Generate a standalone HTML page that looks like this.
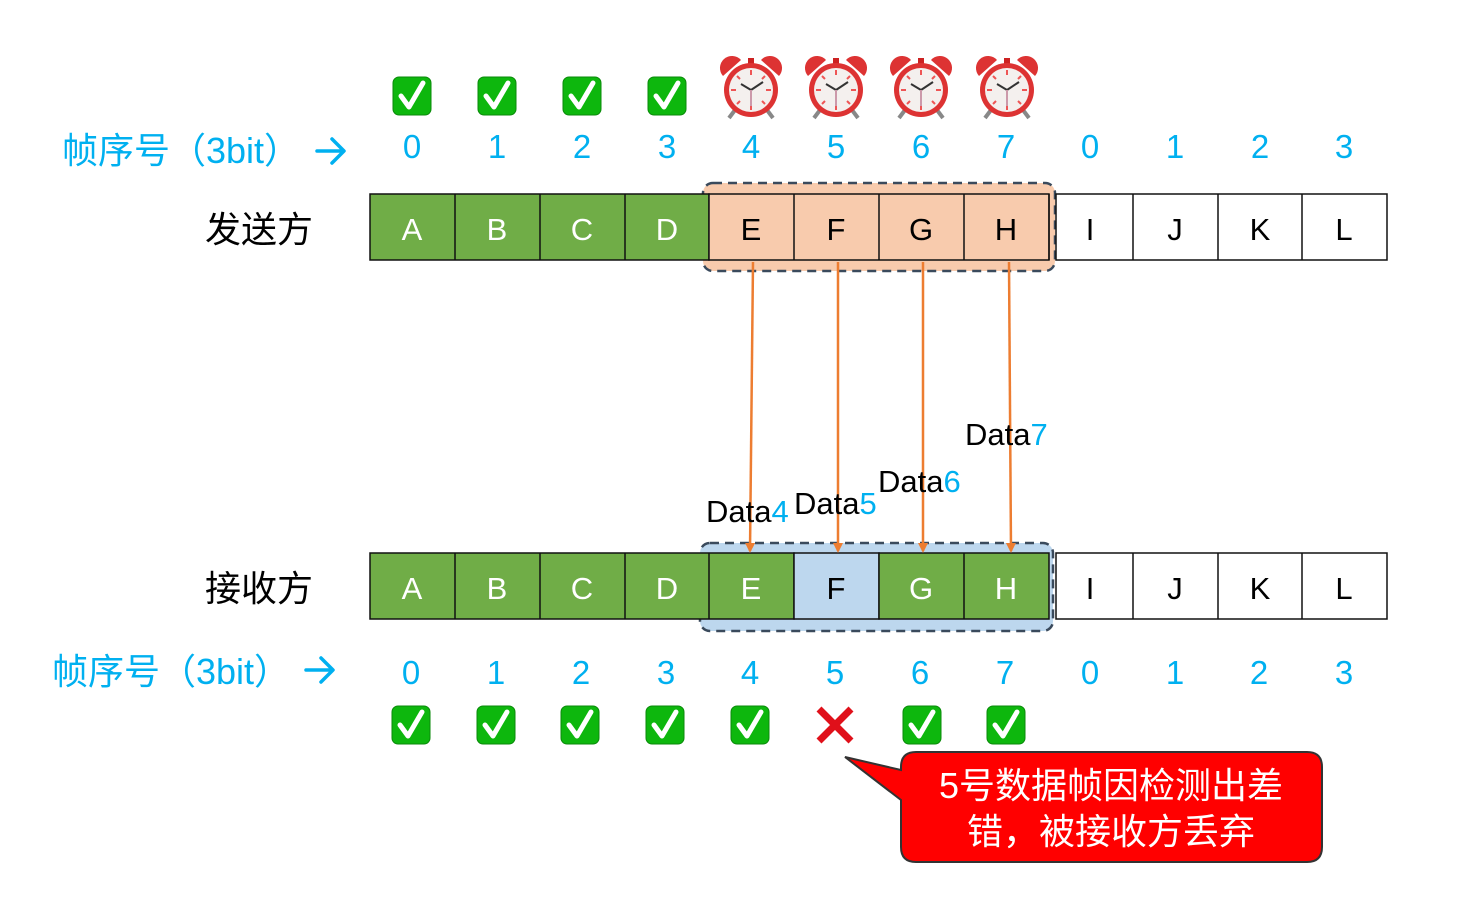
<!DOCTYPE html>
<html><head><meta charset="utf-8"><style>
body{margin:0;background:#fff}
svg text{font-family:"Liberation Sans","Noto Sans CJK SC",sans-serif}
</style></head><body>
<svg width="1461" height="911" xmlns="http://www.w3.org/2000/svg">
<defs>
<g id="chk"><rect x="-19" y="-19" width="38" height="38" rx="6" fill="#0DB70D" stroke="#0a8a0a" stroke-width="1"/><path d="M-11,0 L-3,11 L11,-13" fill="none" stroke="#fff" stroke-width="5" stroke-linecap="round" stroke-linejoin="round"/></g>
<g id="clk"><path d="M-28,-14 A12,12 0 0 1 -10,-30 Z" fill="#d33"/><path d="M28,-14 A12,12 0 0 0 10,-30 Z" fill="#d33"/><rect x="-3" y="-32" width="6" height="6" fill="#c22"/><line x1="-16" y1="20" x2="-22" y2="28" stroke="#888" stroke-width="4"/><line x1="16" y1="20" x2="22" y2="28" stroke="#888" stroke-width="4"/><circle r="27" fill="#d33"/><circle r="22" fill="#f4f0ee"/>
<g stroke="#e55" stroke-width="2"><line x1="0" y1="-20" x2="0" y2="-15"/><line x1="0" y1="20" x2="0" y2="15"/><line x1="-20" y1="0" x2="-15" y2="0"/><line x1="20" y1="0" x2="15" y2="0"/><line x1="14" y1="-14" x2="11" y2="-11"/><line x1="-14" y1="-14" x2="-11" y2="-11"/><line x1="14" y1="14" x2="11" y2="11"/><line x1="-14" y1="14" x2="-11" y2="11"/></g>
<line x1="0" y1="0" x2="-10" y2="-6" stroke="#333" stroke-width="2"/><line x1="0" y1="0" x2="12" y2="-8" stroke="#333" stroke-width="2"/><line x1="0" y1="0" x2="0" y2="16" stroke="#c9a" stroke-width="2"/></g>
<marker id="ar" markerWidth="10" markerHeight="10" refX="8" refY="5" orient="auto" markerUnits="userSpaceOnUse"><path d="M0,0 L10,5 L0,10 z" fill="#ED7D31"/></marker>
</defs>
<use href="#chk" x="412" y="96"/><use href="#chk" x="497" y="96"/><use href="#chk" x="582" y="96"/><use href="#chk" x="667" y="96"/>
<use href="#clk" x="751" y="90"/><use href="#clk" x="836" y="90"/><use href="#clk" x="921" y="90"/><use href="#clk" x="1007" y="90"/>
<g fill="#00B0F0" font-size="33" text-anchor="middle">
<text x="412" y="158">0</text><text x="497" y="158">1</text><text x="582" y="158">2</text><text x="667" y="158">3</text><text x="751" y="158">4</text><text x="836" y="158">5</text><text x="921" y="158">6</text><text x="1006" y="158">7</text><text x="1090" y="158">0</text><text x="1175" y="158">1</text><text x="1260" y="158">2</text><text x="1344" y="158">3</text>
<text x="411" y="684">0</text><text x="496" y="684">1</text><text x="581" y="684">2</text><text x="666" y="684">3</text><text x="750" y="684">4</text><text x="835" y="684">5</text><text x="920" y="684">6</text><text x="1005" y="684">7</text><text x="1090" y="684">0</text><text x="1175" y="684">1</text><text x="1259" y="684">2</text><text x="1344" y="684">3</text>
</g>
<text x="62" y="163" font-size="36" fill="#00B0F0">帧序号（3bit）</text>
<text x="52" y="684" font-size="36" fill="#00B0F0">帧序号（3bit）</text>
<g stroke="#00B0F0" stroke-width="3.5" fill="none" stroke-linecap="round" stroke-linejoin="round">
<path d="M317,151 H343 M332,139 L344,151 L332,163"/>
<path d="M306,670 H332 M321,658 L333,670 L321,682"/>
</g>
<text x="205" y="242" font-size="36">发送方</text>
<text x="205" y="601" font-size="36">接收方</text>
<rect x="703" y="183" width="352" height="88" rx="10" fill="#F8CBAD" stroke="#3a4a5c" stroke-width="2.5" stroke-dasharray="9,6"/>
<rect x="700" y="543" width="353" height="88" rx="10" fill="#BDD7EE" stroke="#3a4a5c" stroke-width="2.5" stroke-dasharray="9,6"/>
<g stroke="#111" stroke-width="1.5">
<rect x="370" y="194" width="339" height="66" fill="#70AD47"/>
<rect x="709" y="194" width="340" height="66" fill="#F8CBAD"/>
<rect x="1056" y="194" width="331" height="66" fill="#fff"/>
<path d="M455,194v66M540,194v66M625,194v66M794,194v66M879,194v66M964,194v66M1049,194v66M1133,194v66M1218,194v66M1302,194v66" />
<rect x="370" y="553" width="424" height="66" fill="#70AD47"/>
<rect x="794" y="553" width="85" height="66" fill="#BDD7EE"/>
<rect x="879" y="553" width="170" height="66" fill="#70AD47"/>
<rect x="1056" y="553" width="331" height="66" fill="#fff"/>
<path d="M455,553v66M540,553v66M625,553v66M709,553v66M964,553v66M1133,553v66M1218,553v66M1302,553v66"/>
</g>
<g font-size="31" text-anchor="middle">
<g fill="#fff"><text x="412" y="240">A</text><text x="497" y="240">B</text><text x="582" y="240">C</text><text x="667" y="240">D</text>
<text x="412" y="599">A</text><text x="497" y="599">B</text><text x="582" y="599">C</text><text x="667" y="599">D</text><text x="751" y="599">E</text><text x="921" y="599">G</text><text x="1006" y="599">H</text></g>
<g fill="#000"><text x="751" y="240">E</text><text x="836" y="240">F</text><text x="921" y="240">G</text><text x="1006" y="240">H</text><text x="1090" y="240">I</text><text x="1175" y="240">J</text><text x="1260" y="240">K</text><text x="1344" y="240">L</text>
<text x="836" y="599">F</text><text x="1090" y="599">I</text><text x="1175" y="599">J</text><text x="1260" y="599">K</text><text x="1344" y="599">L</text></g>
</g>
<g stroke="#ED7D31" stroke-width="2.5" marker-end="url(#ar)">
<line x1="753" y1="262" x2="750" y2="551"/><line x1="838" y1="262" x2="838" y2="551"/><line x1="923" y1="262" x2="923" y2="551"/><line x1="1009" y1="262" x2="1011" y2="551"/>
</g>
<g font-size="31">
<text x="706" y="522">Data<tspan fill="#00B0F0">4</tspan></text>
<text x="794" y="514">Data<tspan fill="#00B0F0">5</tspan></text>
<text x="878" y="492">Data<tspan fill="#00B0F0">6</tspan></text>
<text x="965" y="445">Data<tspan fill="#00B0F0">7</tspan></text>
</g>
<use href="#chk" x="411" y="725"/><use href="#chk" x="496" y="725"/><use href="#chk" x="580" y="725"/><use href="#chk" x="665" y="725"/><use href="#chk" x="750" y="725"/><use href="#chk" x="922" y="725"/><use href="#chk" x="1006" y="725"/>
<path d="M819,709L851,741M851,709L819,741" stroke="#E0101A" stroke-width="7"/>
<path d="M916,752 H1307 Q1322,752 1322,767 V847 Q1322,862 1307,862 H916 Q901,862 901,847 V800 L845,757 L901,770 V767 Q901,752 916,752 Z" fill="#FF0000" stroke="#333" stroke-width="2"/>
<text x="1111" y="798" font-size="36" fill="#fff" text-anchor="middle">5号数据帧因检测出差</text>
<text x="1111" y="844" font-size="36" fill="#fff" text-anchor="middle">错，被接收方丢弃</text>
</svg>
</body></html>
